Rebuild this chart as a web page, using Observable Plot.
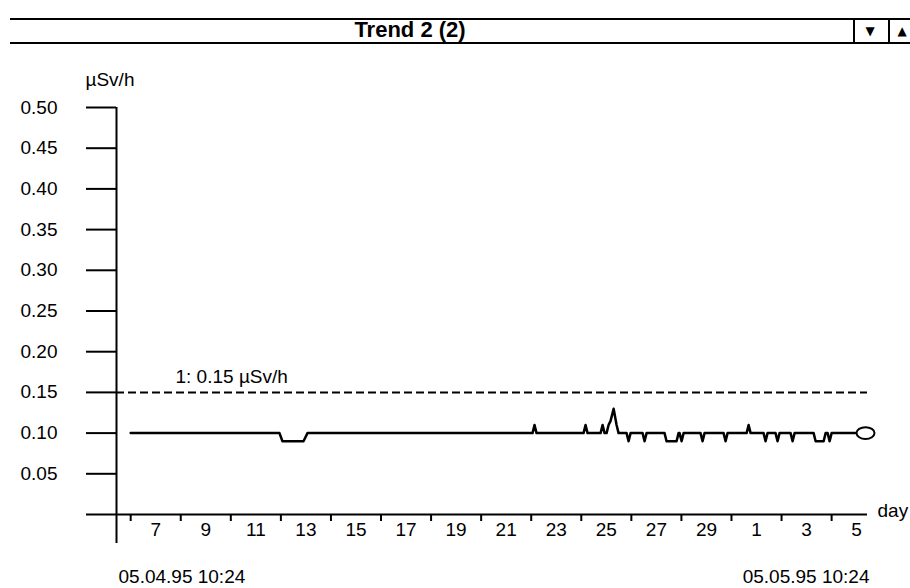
<!DOCTYPE html>
<html>
<head>
<meta charset="utf-8">
<script src="https://cdn.jsdelivr.net/npm/d3@7"></script>
<script src="https://cdn.jsdelivr.net/npm/@observablehq/plot@0.6"></script>
<style>
  body { margin: 0; background: #fff; font-family: "Liberation Sans", Arial, sans-serif; }
  #head { position: relative; width: 910px; height: 50px; }
  #bar { position: absolute; left: 10px; top: 18px; width: 900px; height: 22px;
         border-top: 2px solid #000; border-bottom: 2px solid #000; }
  #title { position: absolute; left: 410px; top: 17px; transform: translateX(-50%);
           font: bold 22px "Liberation Sans", Arial, sans-serif; white-space: nowrap; line-height: 26px; }
  .sep { position: absolute; top: 18px; width: 2px; height: 26px; background: #000; }
  .btn { position: absolute; top: 20px; font-size: 12px; line-height: 22px; width: 20px; text-align: center;
         font-family: "DejaVu Sans", sans-serif; }
</style>
</head>
<body>
<div id="head">
  <div id="bar"></div>
  <div id="title"></div>
  <div class="sep" style="left:853px"></div>
  <div class="sep" style="left:888px"></div>
  <div class="btn" style="left:860px">▼</div>
  <div class="btn" style="left:892px">▲</div>
</div>
<div id="chart"></div>
<script>
const titleText = "Trend 2 (2)";
const yLabel = "µSv/h";
const xLabel = "day";
const year = "1995";
const startTime = "1995-04-05 10:24";
const endTime = "1995-05-05 10:24";
const startLabel = "05.04.95 10:24";
const endLabel = "05.05.95 10:24";
const thresholds = [0.15];
const thresholdLabels = ["1: 0.15 µSv/h"];
const yTicks = [0, 0.05, 0.10, 0.15, 0.20, 0.25, 0.30, 0.35, 0.40, 0.45, 0.50];
const tickDays = ["04-06","04-08","04-10","04-12","04-14","04-16","04-18","04-20","04-22","04-24","04-26","04-28","04-30","05-02","05-04"];
const labelDays = ["04-07","04-09","04-11","04-13","04-15","04-17","04-19","04-21","04-23","04-25","04-27","04-29","05-01","05-03","05-05"];

const times = [
  "04-06 00:00","04-11 22:40","04-12 01:30","04-12 21:40","04-13 01:30",
  "04-22 01:15","04-22 03:10","04-22 05:05",
  "04-24 02:10","04-24 04:05","04-24 06:00",
  "04-24 18:30","04-24 20:25","04-24 22:20",
  "04-25 00:15","04-25 02:10","04-25 04:05","04-25 07:00","04-25 09:50","04-25 11:45",
  "04-25 19:25","04-25 21:20","04-25 23:15",
  "04-26 10:45","04-26 12:40","04-26 14:35",
  "04-27 07:50","04-27 09:45","04-27 19:20","04-27 21:15",
  "04-27 22:15","04-28 00:10","04-28 02:05",
  "04-28 18:20","04-28 20:15","04-28 22:10",
  "04-29 16:25","04-29 18:20","04-29 20:15",
  "04-30 14:30","04-30 16:25","04-30 18:20",
  "05-01 06:45","05-01 08:40","05-01 10:35",
  "05-01 18:15","05-01 20:10","05-01 22:05",
  "05-02 08:40","05-02 10:35","05-02 12:30",
  "05-03 06:45","05-03 08:40","05-03 16:20","05-03 18:15",
  "05-03 20:10","05-03 22:05","05-04 00:00",
  "05-05 08:30"
];
const values = [
  0.10, 0.10, 0.09, 0.09, 0.10,
  0.10, 0.11, 0.10,
  0.10, 0.11, 0.10,
  0.10, 0.11, 0.10,
  0.10, 0.11, 0.115, 0.13, 0.11, 0.10,
  0.10, 0.09, 0.10,
  0.10, 0.09, 0.10,
  0.10, 0.09, 0.09, 0.10,
  0.10, 0.09, 0.10,
  0.10, 0.09, 0.10,
  0.10, 0.09, 0.10,
  0.10, 0.11, 0.10,
  0.10, 0.09, 0.10,
  0.10, 0.09, 0.10,
  0.10, 0.09, 0.10,
  0.10, 0.09, 0.09, 0.10,
  0.10, 0.09, 0.10,
  0.10
];

document.getElementById("title").textContent = titleText;

const parse = d3.utcParse("%Y-%m-%d %H:%M");
const parseDay = d3.utcParse("%Y-%m-%d");
const data = times.map((t, i) => ({time: parse(`${year}-${t}`), value: values[i]}));
const start = parse(startTime), end = parse(endTime);
const tickDates = tickDays.map(d => parseDay(`${year}-${d}`));
const labelDates = labelDays.map(d => parseDay(`${year}-${d}`));
const last = data[data.length - 1];
const thr = thresholds.map((v, i) => ({value: v, label: thresholdLabels[i]}));

const ellipse = {
  draw(ctx, size) {
    const rx = Math.sqrt(size / Math.PI), ry = rx * 0.65, k = 0.5523;
    ctx.moveTo(rx, 0);
    ctx.bezierCurveTo(rx, ry * k, rx * k, ry, 0, ry);
    ctx.bezierCurveTo(-rx * k, ry, -rx, ry * k, -rx, 0);
    ctx.bezierCurveTo(-rx, -ry * k, -rx * k, -ry, 0, -ry);
    ctx.bezierCurveTo(rx * k, -ry, rx, -ry * k, rx, 0);
    ctx.closePath();
  }
};

const font = "'Liberation Sans', Arial, sans-serif";
const chart = Plot.plot({
  width: 910, height: 538,
  marginTop: 57, marginBottom: 74, marginLeft: 116, marginRight: 43,
  style: {fontFamily: font, fontSize: "19px", color: "#000", background: "#fff", overflow: "visible"},
  x: {type: "utc", domain: [start, end], axis: null},
  y: {domain: [0, 0.5], axis: null},
  marks: [
    Plot.axisY(yTicks, {tickSize: 30, tickPadding: 29, strokeWidth: 2, fontSize: 19, label: null,
      tickFormat: d => d === 0 ? "" : d3.format(".2f")(d)}),
    Plot.ruleX([start], {x: d => d, y1: () => 0, y2: () => 0.5, strokeWidth: 2}),
    Plot.ruleY([0], {y: d => d, x1: () => start, x2: () => end, strokeWidth: 2}),
    Plot.axisX(tickDates, {tickSize: 7, strokeWidth: 2, tickFormat: () => "", label: null}),
    Plot.axisX([start], {tickSize: 29, strokeWidth: 2, tickFormat: () => "", label: null}),
    Plot.axisX(labelDates, {tickSize: 0, tickPadding: 8, fontSize: 19, label: null,
      tickFormat: d => String(d.getUTCDate())}),
    Plot.ruleY(thr, {y: "value", x1: () => start, x2: () => end, strokeWidth: 2, strokeDasharray: "8,4"}),
    Plot.text(thr, {x: () => start, y: "value", text: "label", textAnchor: "start", dx: 59, dy: -15, fontSize: 19}),
    Plot.text([yLabel], {frameAnchor: "top-left", textAnchor: "start", lineAnchor: "middle", dx: -31, dy: -28, fontSize: 19}),
    Plot.text([xLabel], {x: () => end, y: () => 0, textAnchor: "start", lineAnchor: "middle", dx: 10, dy: -4, fontSize: 19}),
    Plot.text([startLabel], {x: () => start, y: () => 0, textAnchor: "start", lineAnchor: "middle", dx: 2, dy: 62, fontSize: 19}),
    Plot.text([endLabel], {x: () => end, y: () => 0, textAnchor: "end", lineAnchor: "middle", dx: 2, dy: 62, fontSize: 19}),
    Plot.line(data, {x: "time", y: "value", stroke: "#000", strokeWidth: 2.5}),
    Plot.dot([last], {x: "time", y: "value", r: 9, symbol: ellipse, fill: "#fff", stroke: "#000", strokeWidth: 2})
  ]
});
document.getElementById("chart").appendChild(chart);
</script>
</body>
</html>
